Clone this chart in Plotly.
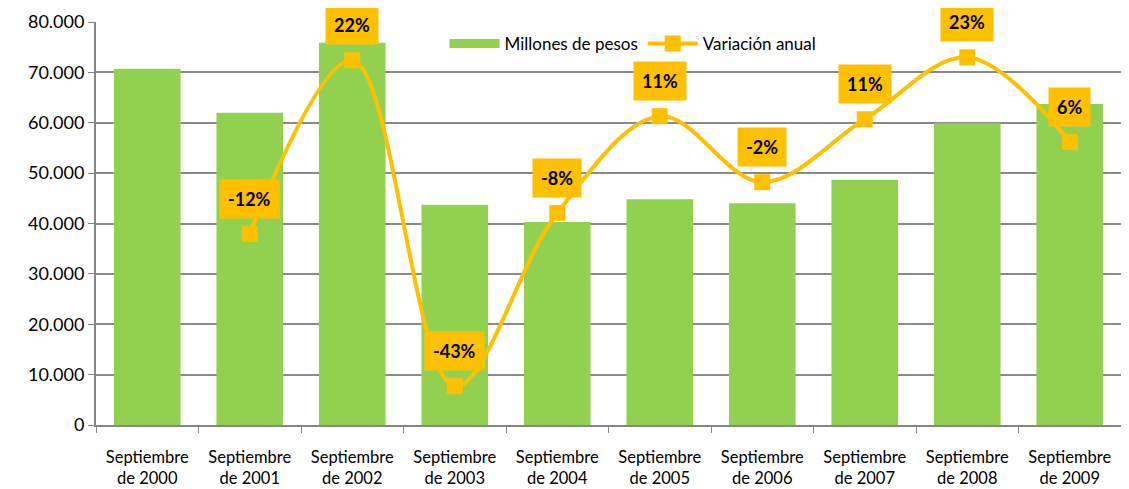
import plotly.graph_objects as go

categories = ["Septiembre<br>de 2000", "Septiembre<br>de 2001", "Septiembre<br>de 2002",
              "Septiembre<br>de 2003", "Septiembre<br>de 2004", "Septiembre<br>de 2005",
              "Septiembre<br>de 2006", "Septiembre<br>de 2007", "Septiembre<br>de 2008",
              "Septiembre<br>de 2009"]
millones = [70700, 62000, 75900, 43700, 40300, 44800, 44000, 48700, 59900, 63700]
variacion = [None, -12.1, 22.4, -42.3, -7.9, 11.3, -1.8, 10.7, 23.0, 6.2]
etiquetas = [None, "-12%", "22%", "-43%", "-8%", "11%", "-2%", "11%", "23%", "6%"]
y_ticks = [0, 10000, 20000, 30000, 40000, 50000, 60000, 70000, 80000]

GREEN = "#92D050"
ORANGE = "#FFC000"
FONT = "Lato"

fig = go.Figure()
fig.add_trace(go.Bar(x=categories, y=millones, name="Millones de pesos", showlegend=False,
                     marker=dict(color=GREEN, line=dict(width=0))))
fig.add_trace(go.Scatter(x=[categories[0]], y=[None], name="Millones de pesos", mode="lines",
                         line=dict(color=GREEN, width=9), hoverinfo="skip"))
fig.add_trace(go.Scatter(x=categories, y=variacion, name="Variación anual", yaxis="y2",
                         mode="lines+markers", line=dict(color=ORANGE, width=4, shape="spline", smoothing=1),
                         marker=dict(symbol="square", size=16, color=ORANGE)))

for c, v, t in zip(categories, variacion, etiquetas):
    if v is None:
        continue
    fig.add_annotation(x=c, y=v, yref="y2", text="<b>%s</b>" % t, showarrow=False,
                       yshift=35, bgcolor=ORANGE, borderpad=8,
                       font=dict(family=FONT, size=18, color="black"))

fig.update_layout(
    width=1113, height=481,
    margin=dict(l=88, r=0, t=14, b=64),
    plot_bgcolor="white", paper_bgcolor="white",
    separators=",.",
    bargap=0.35,
    font=dict(family=FONT, color="black"),
    legend=dict(orientation="h", x=0.34, y=0.99, xanchor="left", yanchor="top",
                font=dict(size=17), bgcolor="rgba(0,0,0,0)", itemwidth=50, tracegroupgap=0),
    xaxis=dict(type="category", range=[-0.5, 9.5], showline=True, linecolor="#868686", linewidth=2,
               ticks="outside", tickson="boundaries", ticklen=6, tickcolor="#868686",
               tickfont=dict(size=16.5), ticklabelstandoff=16,
               showgrid=False, automargin=False),
    yaxis=dict(range=[0, 80000], tickvals=y_ticks, tickformat=",d",
               showgrid=True, gridcolor="#8a8a8a", gridwidth=1.5,
               showline=True, linecolor="#868686", linewidth=2,
               ticks="outside", ticklen=6, tickcolor="#868686",
               tickfont=dict(size=18), zeroline=False, automargin=False),
    yaxis2=dict(range=[-50, 30], overlaying="y", side="right", visible=False, automargin=False),
)

fig.write_html("out.html")
